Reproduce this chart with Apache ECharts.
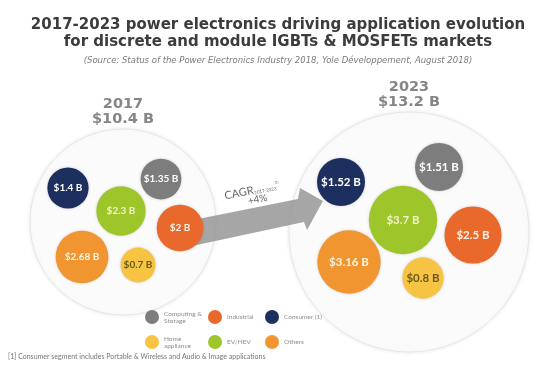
<!DOCTYPE html>
<html><head><meta charset="utf-8">
<script src="https://cdn.jsdelivr.net/npm/echarts@6/dist/echarts.min.js"></script>
<style>html,body{margin:0;padding:0;background:#fff}#c{width:556px;height:366px}</style>
</head><body><div id="c"></div>
<script>
// ---- data ----
const categories = ['Computing & Storage', 'Industrial', 'Consumer (1)', 'Home appliance', 'EV/HEV', 'Others'];
const years = ['2017', '2023'];
const totals = [10.4, 13.2];
const values2017 = [1.35, 2, 1.4, 0.7, 2.3, 2.68];
const values2023 = [1.51, 2.5, 1.52, 0.8, 3.7, 3.16];
const cagrLabel = '+4%';
const cagrPeriod = '2017-2023';

// ---- layout / style (not data) ----
const layout2017 = [[161,179],[180,228],[68,188],[138,265],[121,211],[82,257]];
const layout2023 = [[439,167],[473,235],[341,182],[423,278],[403,220],[349,262]];
const outerLayout = [[123,222,93],[409,232,120]];
const colors = ['#7d7d7d','#e8692b','#1c2f5e','#f6c442','#9dc62b','#f0952f'];
const labelColors = ['#ffffff','#fff3e8','#ffffff','#6b5a1a','#f4f1c8','#fff3e0'];
const sizeFns = [v => 2 * (14.3 + 4.5 * v), v => 2 * (16.9 + 4.67 * v)];
const legendPos = [[145,310],[208,310],[265,310],[145,335],[208,335],[265,335]];
const legendText = {'Computing & Storage': 'Computing &\nStorage', 'Home appliance': 'Home\nappliance'};

const chart = echarts.init(document.getElementById('c'));

const bubbleSeries = categories.map((name, i) => ({
  type: 'scatter', name, z: 3, silent: true,
  data: [[layout2017[i][0], layout2017[i][1], values2017[i], 0],
         [layout2023[i][0], layout2023[i][1], values2023[i], 1]],
  symbolSize: d => sizeFns[d[3]](d[2]),
  itemStyle: {color: colors[i], opacity: 1, shadowBlur: 3, shadowColor: 'rgba(0,0,0,0.18)'},
  label: {show: true, position: 'inside', formatter: p => '{y' + p.value[3] + '|$' + p.value[2] + ' B}',
          color: labelColors[i], fontWeight: 'bold', fontFamily: 'Lato',
          rich: {y0: {fontSize: 10, fontWeight: 'bold', fontFamily: 'Lato', color: labelColors[i]},
                 y1: {fontSize: 11.5, fontWeight: 'bold', fontFamily: 'Lato', color: labelColors[i]}}}
}));

const outerSeries = {
  type: 'scatter', name: 'total', z: 1, silent: true,
  data: outerLayout.map((o, k) => [o[0], o[1], o[2], totals[k], years[k]]),
  symbolSize: d => 2 * d[2],
  itemStyle: {color: '#ffffff', borderColor: '#e2e2e2', borderWidth: 1, shadowBlur: 4, shadowColor: 'rgba(0,0,0,0.10)'},
  label: {show: true, position: 'top', distance: 2,
          formatter: p => p.value[4] + '\n$' + p.value[3] + ' B',
          color: '#666666', fontWeight: 'bold', fontSize: 14.5, lineHeight: 15, fontFamily: 'DejaVu Sans'}
};

const legends = categories.map((name, i) => ({
  data: [name], left: legendPos[i][0], top: legendPos[i][1], padding: 0,
  icon: 'circle', itemWidth: 14, itemHeight: 14, selectedMode: false,
  formatter: n => legendText[n] || n,
  textStyle: {fontSize: 6.5, lineHeight: 7, color: '#8c8c8c', fontFamily: 'Lato'}
}));

chart.setOption({
  animation: false,
  backgroundColor: '#ffffff',
  title: [
    {text: '2017-2023 power electronics driving application evolution\nfor discrete and module IGBTs & MOSFETs markets',
     left: 'center', top: 17, padding: 0,
     textStyle: {fontFamily: 'DejaVu Sans', fontSize: 15, fontWeight: 'bold', color: '#3c3c3c', lineHeight: 17}},
    {text: '(Source: Status of the Power Electronics Industry 2018, Yole Développement, August 2018)',
     left: 'center', top: 56, padding: 0,
     textStyle: {fontFamily: 'DejaVu Sans', fontSize: 8.5, fontStyle: 'italic', fontWeight: 'normal', color: '#7a7a7a'}}
  ],
  grid: {left: 0, right: 0, top: 0, bottom: 0},
  xAxis: {type: 'value', min: 0, max: 556, show: false},
  yAxis: {type: 'value', min: 0, max: 366, inverse: true, show: false},
  legend: legends,
  series: [outerSeries].concat(bubbleSeries),
  graphic: [
    {type: 'polygon', z: 2, silent: true,
     shape: {points: [[188,221],[298,199],[300,188],[323,201],[307,230],[304,222],[192,246]]},
     style: {fill: 'rgba(150,150,150,0.85)'}},
    {type: 'group', x: 239, y: 193, rotation: 0.2, z: 4, silent: true, children: [
      {type: 'text', x: 0, y: 0, style: {text: 'CAGR', fontSize: 11, fontFamily: 'Lato', fill: '#666', align: 'center', verticalAlign: 'middle'}},
      {type: 'text', x: 15, y: 3, style: {text: cagrPeriod, fontSize: 4.5, fontFamily: 'Lato', fill: '#666', align: 'left', verticalAlign: 'middle'}},
      {type: 'text', x: 37, y: -3, style: {text: '(1)', fontSize: 3.5, fontFamily: 'Lato', fill: '#666', align: 'left', verticalAlign: 'middle'}},
      {type: 'text', x: 17, y: 10, style: {text: cagrLabel, fontSize: 10, fontFamily: 'Lato', fill: '#666', align: 'center', verticalAlign: 'middle'}}
    ]},
    {type: 'text', x: 8, y: 357, silent: true,
     style: {text: '[1] Consumer segment includes Portable & Wireless and Audio & Image applications',
             fontSize: 7, fontFamily: 'Lato', fill: '#777', verticalAlign: 'middle'}}
  ]
});
</script></body></html>
